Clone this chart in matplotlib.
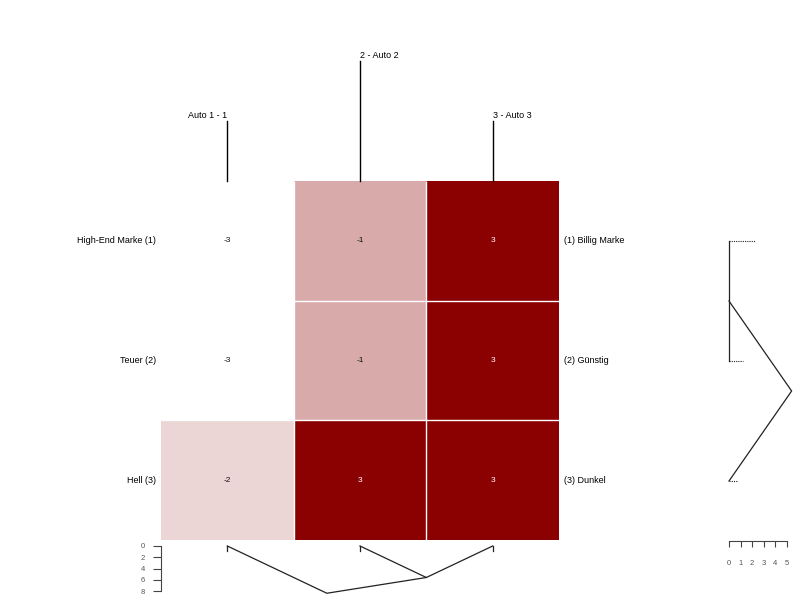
import numpy as np
import matplotlib
matplotlib.use("Agg")
import matplotlib.pyplot as plt
from matplotlib.colors import LinearSegmentedColormap

plt.rcParams["font.family"] = ["Liberation Sans", "DejaVu Sans"]

# grid data
col_labels = ["Auto 1 - 1", "2 - Auto 2", "3 - Auto 3"]
left_labels = ["High-End Marke (1)", "Teuer (2)", "Hell (3)"]
right_labels = ["(1) Billig Marke", "(2) Günstig", "(3) Dunkel"]
values = np.array([
    [-3, -1, 3],
    [-3, -1, 3],
    [-2, 3, 3],
])

# column dendrogram: merges (x_left, x_right, height_left, height_right, height)
col_merges = [
    (1.5, 2.5, 0.0, 0.0, 5.6),
    (0.5, 2.0, 0.0, 5.6, 8.4),
]
col_leaf_len = [0.8, 0.8, 0.8]
col_scale_ticks = [0, 2, 4, 6, 8]

# row dendrogram
row_merges = [
    (0.5, 1.5, 0.0, 0.0, 0.0),
    (1.0, 2.5, 0.0, 0.0, 5.4),
]
row_leaf_len = [2.2, 1.2, 0.8]
row_scale_ticks = [0, 1, 2, 3, 4, 5]

W, H = 800, 600
fig = plt.figure(figsize=(8, 6), dpi=100)

def box(x0, y0, x1, y1):
    # pixel box -> figure fraction
    return [x0 / W, 1 - y1 / H, (x1 - x0) / W, (y1 - y0) / H]

cmap = LinearSegmentedColormap.from_list("wr", ["#ffffff", "#8b0000"])

# heatmap
ax = fig.add_axes(box(161, 181, 559, 540))
n_rows, n_cols = values.shape
ax.pcolormesh(np.arange(n_cols + 1), np.arange(n_rows + 1), values,
              cmap=cmap, vmin=-3, vmax=3)
ax.hlines(np.arange(1, n_rows), 0, n_cols, color="white", lw=1)
ax.vlines(np.arange(1, n_cols), 0, n_rows, color="white", lw=1)
ax.set_xlim(0, n_cols)
ax.set_ylim(n_rows, 0)
ax.axis("off")
for i in range(n_rows):
    for j in range(n_cols):
        v = values[i, j]
        ax.text(j + 0.5, i + 0.5, str(v), ha="center", va="center", fontsize=6,
                color="white" if v > 0 else "#111111")
    ax.text(-0.04, i + 0.5, left_labels[i], ha="right", va="center", fontsize=6.5)
    ax.text(n_cols + 0.04, i + 0.5, right_labels[i], ha="left", va="center", fontsize=6.5)

stagger = [0.5, 1.0, 0.5]
aligns = ["right", "left", "left"]
for j, lab in enumerate(col_labels):
    ax.plot([j + 0.5, j + 0.5], [0, -stagger[j]], color="black", lw=1, clip_on=False)
    ax.text(j + 0.5, -stagger[j] - 0.01, lab, ha=aligns[j], va="bottom", fontsize=6.5)

# bottom dendrogram (columns)
axb = fig.add_axes(box(161, 546, 559, 591))
axb.set_xlim(0, n_cols)
axb.set_ylim(8, 0)
for x0, x1, h0, h1, h in col_merges:
    xm = (x0 + x1) / 2
    axb.plot([x0, xm, x1], [h0, h, h1], color="#222222", lw=0.9, clip_on=False)
for j, ln in enumerate(col_leaf_len):
    axb.plot([j + 0.5, j + 0.5], [0, ln], color="#222222", lw=0.9, clip_on=False)
for s in ["top", "right", "bottom"]:
    axb.spines[s].set_visible(False)
axb.spines["left"].set_color("#444444")
axb.spines["left"].set_linewidth(0.8)
axb.set_xticks([])
axb.set_yticks(col_scale_ticks)
axb.tick_params(axis="y", length=5.5, width=0.8, color="#444444",
                labelsize=5.5, labelcolor="#555555", pad=6)

# right dendrogram (rows)
axr = fig.add_axes(box(729, 181, 787, 541))
axr.set_xlim(0, 5)
axr.set_ylim(n_rows, 0)
for y0, y1, h0, h1, h in row_merges:
    ym = (y0 + y1) / 2
    axr.plot([h0, h, h1], [y0, ym, y1], color="#222222", lw=0.9, clip_on=False)
for i, ln in enumerate(row_leaf_len):
    axr.plot([0, ln], [i + 0.5, i + 0.5], color="#222222", lw=0.8, ls=(0, (1, 1)),
             clip_on=False)
for s in ["top", "right", "left"]:
    axr.spines[s].set_visible(False)
axr.spines["bottom"].set_color("#444444")
axr.spines["bottom"].set_linewidth(0.8)
axr.set_yticks([])
axr.set_xticks(row_scale_ticks)
axr.tick_params(axis="x", length=4.5, width=0.8, color="#444444",
                labelsize=5.5, labelcolor="#555555", pad=9)

fig.savefig("out.png", dpi=100)
